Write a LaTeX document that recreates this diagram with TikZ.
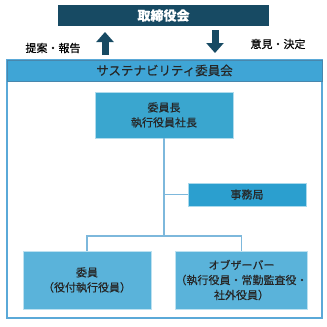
\documentclass[tikz,border=0pt]{standalone}
\usepackage{fontspec}
\newfontfamily\jpfont[FakeBold=0.5]{Noto Sans CJK JP}
\usetikzlibrary{positioning,arrows.meta}
\definecolor{boarddark}{HTML}{174A63}
\definecolor{headblue}{HTML}{3FA5D6}
\definecolor{frameblue}{HTML}{5AA9D8}
\definecolor{chairblue}{HTML}{3AA6CF}
\definecolor{officeblue}{HTML}{2B9FCF}
\definecolor{memberblue}{HTML}{5AB3DA}
\definecolor{linkblue}{HTML}{7DB8DC}
\tikzset{
  orgbox/.style={draw=white!60!#1, line width=0.6pt, fill=#1, align=center,
    font=\jpfont\fontsize{11}{15}\selectfont, text=black!85, inner sep=0pt},
  link/.style={draw=linkblue, line width=1.3pt},
  bigarrow/.style={draw=boarddark, line width=7pt,
    -{Triangle[width=17pt,length=10pt]}},
}
\begin{document}
\begin{tikzpicture}[x=1pt,y=1pt]
		\useasboundingbox (0,0) rectangle (327,-327);
		
		% board
		\node[fill=boarddark, text=white, minimum width=211pt, minimum height=21pt,
		      font=\jpfont\bfseries\fontsize{13}{15}\selectfont, inner sep=0pt]
		      (board) at (163.5,-15.5) {取締役会};
		
		\coordinate (upfrom) at (105,-55);
		\coordinate (upto) at (105,-32);
		\coordinate (downfrom) at (215,-30);
		\coordinate (downto) at (215,-53);
		\draw[bigarrow] (upfrom) -- (upto);
		\draw[bigarrow] (downfrom) -- (downto);
		\node[font=\jpfont\fontsize{11}{13}\selectfont] (propose) at (53,-48) {提案・報告};
		\node[font=\jpfont\fontsize{11}{13}\selectfont] (decide) at (278,-44) {意見・決定};
		
		% committee frame
		\draw[frameblue, line width=1.5pt] (7,-60) rectangle (322,-318);
		\node[orgbox=headblue, draw=frameblue!80!black, minimum width=315pt, minimum height=21pt,
		      font=\jpfont\fontsize{12.5}{15}\selectfont] (committee) at (164.5,-70.5)
		      {サステナビリティ委員会};
		
		\node[orgbox=chairblue, minimum width=138pt, minimum height=46pt] (chair) at (164,-115)
		      {委員長\\執行役員社長};
		\node[orgbox=officeblue, minimum width=118pt, minimum height=23pt] (office) at (247,-194.5)
		      {事務局};
		\node[orgbox=memberblue, minimum width=128pt, minimum height=58pt] (member) at (87,-280)
		      {委員\\（役付執行役員）};
		\node[orgbox=memberblue, minimum width=129pt, minimum height=58pt] (observer) at (241.5,-280)
		      {オブザーバー\\（執行役員・常勤監査役・\\社外役員）};
		
		% connectors
		\coordinate (fork) at (164,-236);
		\draw[link] (chair.south) -- (fork);
		\draw[link] (chair.south |- office.west) -- (office.west);
		\draw[link] (member.north) |- (fork) -| (observer.north);
		
	\end{tikzpicture}
\end{document}
